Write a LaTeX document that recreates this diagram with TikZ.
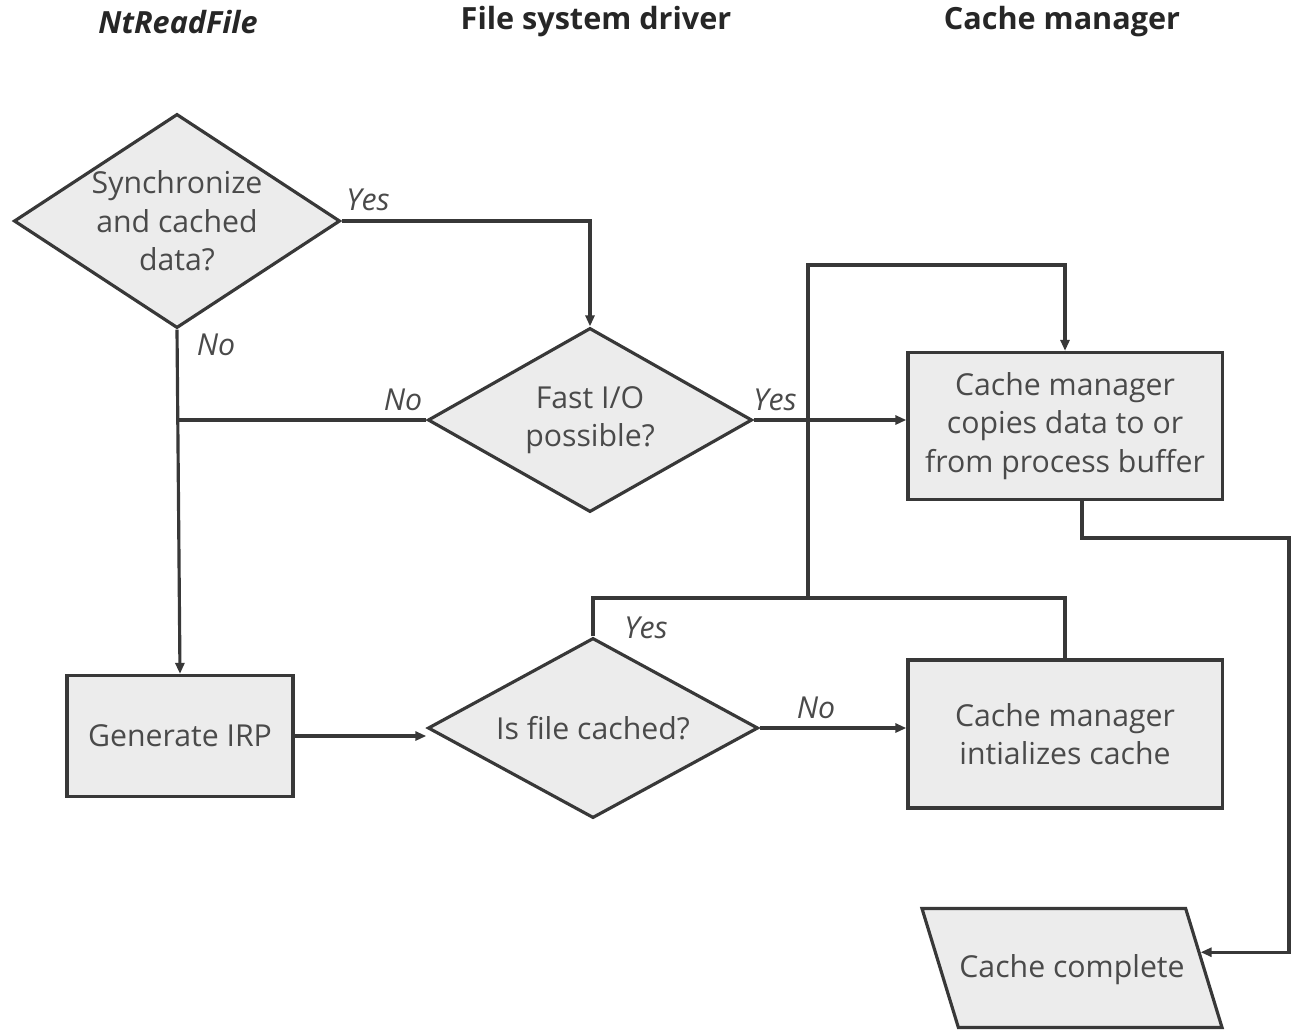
\documentclass[tikz,border=0pt]{standalone}
\usepackage{fontspec}
\setmainfont{Open Sans}
\usepackage{xcolor}
\definecolor{mline}{HTML}{383838}
\definecolor{mfill}{HTML}{ECECEC}
\definecolor{mtext}{HTML}{4A4A4A}
\usepackage{tikz}
\usetikzlibrary{shapes.geometric,arrows.meta}

\begin{document}
\begin{tikzpicture}[x=0.01cm, y=-0.01cm,
    line width=0.9pt, draw=mline,
    >={Triangle[length=1.1mm,width=0.9mm]},
    every node/.style={font=\fontsize{8.6}{11}\selectfont, text=mtext},
    every label/.style={font=\fontsize{8.6}{11}\selectfont, text=mtext, align=center},
    head/.style={font=\fontsize{8.7}{11}\selectfont\bfseries, text=black!85},
    decision/.style={diamond, draw=mline, fill=mfill, inner sep=0pt, label={center:#1}},
    action/.style={rectangle, draw=mline, fill=mfill, align=center, inner sep=0pt},
    output/.style={trapezium, trapezium left angle=107, trapezium right angle=73,
        draw=mline, fill=mfill, text height=0.25cm, text depth=0.07cm,
        inner xsep=0.01cm, inner ysep=0.435cm},
    answer/.style={font=\fontsize{8.6}{11}\selectfont\itshape}]

    \useasboundingbox (0,0) rectangle (1292,1030);

    % column titles
    \node[head] (ntread) at (178,22) {\itshape NtReadFile};
    \node[head] (fsd) at (596,22) {File system driver};
    \node[head] (cmgr) at (1062,22) {Cache manager};

    % boxes
    \node[decision={Synchronize\\and cached\\data?}, minimum width=3.26cm, minimum height=2.14cm] (sync) at (177,221) {};
    \node[decision={Fast I/O\\possible?}, minimum width=3.24cm, minimum height=1.84cm] (fastio) at (590,420) {};
    \node[action, minimum width=3.14cm, minimum height=1.47cm] (copy) at (1065,426) {Cache manager\\copies data to or\\from process buffer};
    \node[action, minimum width=2.26cm, minimum height=1.21cm] (irp) at (180,736) {Generate IRP};
    \node[decision={Is file cached?}, minimum width=3.30cm, minimum height=1.80cm] (cached) at (593,728) {};
    \node[action, minimum width=3.14cm, minimum height=1.48cm] (init) at (1065,734) {Cache manager\\intializes cache};
    \node[output] (cc) at (1072,968) {Cache complete};

    \coordinate (split) at (808,598);
    \coordinate (loop) at (808,265);
    \coordinate (rim) at (1289,538);

    % connectors
    \draw[->] (sync.east) -| (fastio.north);
    \draw[->] (sync.south) -- (irp.north);
    \draw (fastio.west) -- (sync.south |- fastio.west);
    \draw[->] (fastio.east) -- (fastio.east -| copy.west);
    \draw[->] (irp.east) -- (irp.east -| cached.west);
    \draw[->] (cached.east) -- (cached.east -| init.west);
    \draw (cached.north) |- (split) -| (init.north);
    \draw[->] (split) -- (loop) -| (copy.north);
    \draw[->] ([xshift=0.17cm]copy.south) |- (rim) |- (cc.7);

    % answers
    \node[answer] (y1) at (368,200) {Yes};
    \node[answer] (n1) at (216,345) {No};
    \node[answer] (n2) at (403,400) {No};
    \node[answer] (y2) at (775,400) {Yes};
    \node[answer] (y3) at (646,628) {Yes};
    \node[answer] (n3) at (816,708) {No};

\end{tikzpicture}
\end{document}
